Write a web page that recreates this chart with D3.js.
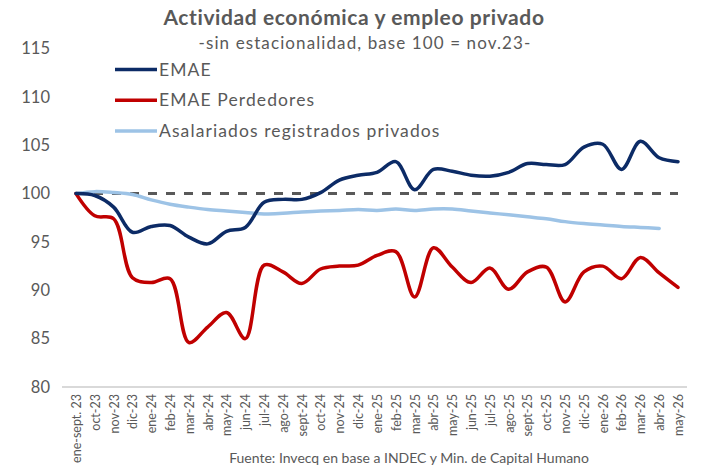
<!DOCTYPE html>
<html lang="es">
<head>
  <meta charset="utf-8" />
  <title>Actividad económica y empleo privado</title>
  <script src="https://cdn.jsdelivr.net/npm/d3@7/dist/d3.min.js"></script>
  <style>
    html,body{margin:0;padding:0;background:#fff;}
    svg{display:block;font-family:Lato,"Open Sans",sans-serif;}
  </style>
</head>
<body>
<svg id="chart" width="709" height="472"></svg>
<script>
// categorías (eje X)
const meses = ['ene-sept. 23','oct-23','nov-23','dic-23','ene-24','feb-24','mar-24','abr-24','may-24','jun-24',
  'jul-24','ago-24','sept-24','oct-24','nov-24','dic-24','ene-25','feb-25','mar-25','abr-25','may-25','jun-25',
  'jul-25','ago-25','sept-25','oct-25','nov-25','dic-25','ene-26','feb-26','mar-26','abr-26','may-26'];

// series (base 100)
const emae = [100,99.8,98.6,96.0,96.6,96.7,95.5,94.8,96.1,96.5,99.1,99.4,99.4,100.1,101.4,101.9,102.2,103.3,100.4,
  102.5,102.3,101.9,101.8,102.2,103.1,103.0,103.0,104.8,105.1,102.5,105.4,103.7,103.3];
const emaePerd = [100,97.7,97.4,91.3,90.8,91.2,84.6,86.2,87.7,85.0,92.6,91.9,90.7,92.2,92.5,92.6,93.6,94.0,89.3,
  94.4,92.4,90.8,92.3,90.1,91.9,92.4,88.8,91.9,92.5,91.2,93.4,91.8,90.3];
const asalariados = [100,100.2,100.1,99.9,99.35,98.9,98.6,98.35,98.2,98.05,97.9,97.97,98.1,98.2,98.25,98.35,98.25,
  98.4,98.25,98.4,98.4,98.2,98.0,97.8,97.6,97.4,97.1,96.9,96.75,96.6,96.5,96.4,null];

const yTicks = [80,85,90,95,100,105,110,115];
const seriesNames = ['EMAE','EMAE Perdedores','Asalariados registrados privados'];
const colores = ['#0c2b66','#c00000','#9dc3e6'];

const svg = d3.select('#chart');
const gris = '#595959';

const x = d3.scalePoint().domain(meses).range([76,678]);
const y = d3.scaleLinear().domain([80,115]).range([387,48.5]);

// título
svg.append('text').attr('x',354).attr('y',25).attr('text-anchor','middle')
  .attr('font-size',21).attr('font-weight','bold').attr('letter-spacing',0.6).attr('fill',gris)
  .text('Actividad económica y empleo privado');
svg.append('text').attr('x',365).attr('y',49).attr('text-anchor','middle')
  .attr('font-size',17).attr('letter-spacing',1.1).attr('fill',gris)
  .text('-sin estacionalidad, base 100 = nov.23-');

// eje Y (solo etiquetas)
svg.append('g').selectAll('text').data(yTicks).join('text')
  .attr('x',50).attr('y',d=>y(d)).attr('dy','0.35em').attr('text-anchor','end')
  .attr('font-size',16.5).attr('fill',gris).text(d=>d);

// eje X
const xAxis = svg.append('g').attr('transform','translate(0,387)')
  .call(d3.axisBottom(x).tickSize(0).tickPadding(0));
xAxis.select('.domain').remove();
svg.append('line').attr('x1',62).attr('x2',687).attr('y1',387).attr('y2',387)
  .attr('stroke','#d9d9d9').attr('stroke-width',2);
xAxis.selectAll('text')
  .attr('transform','rotate(-90)')
  .attr('x',-7).attr('y',0).attr('dy','0.35em')
  .attr('text-anchor','end').attr('font-size',12.5).attr('font-family','Lato,sans-serif').attr('fill',gris);

// línea base 100
svg.append('line').attr('x1',x(meses[0])).attr('x2',x(meses[meses.length-1]))
  .attr('y1',y(100)).attr('y2',y(100))
  .attr('stroke',gris).attr('stroke-width',3).attr('stroke-dasharray','9,9');

// series
const line = d3.line()
  .defined(d=>d.v!=null)
  .x(d=>x(d.m)).y(d=>y(d.v))
  .curve(d3.curveCatmullRom.alpha(0.5));

[asalariados,emaePerd,emae].forEach((s,k)=>{
  const idx = 2-k;
  svg.append('path')
    .datum(s.map((v,i)=>({m:meses[i],v})))
    .attr('d',line).attr('fill','none')
    .attr('stroke',colores[idx]).attr('stroke-width',3.5)
    .attr('stroke-linejoin','round').attr('stroke-linecap','round');
});

// leyenda
const ley = svg.append('g');
seriesNames.forEach((n,i)=>{
  const yy = 69.5 + i*30.7;
  ley.append('line').attr('x1',115).attr('x2',157).attr('y1',yy).attr('y2',yy)
    .attr('stroke',colores[i]).attr('stroke-width',3.5);
  ley.append('text').attr('x',159).attr('y',yy).attr('dy','0.35em')
    .attr('font-size',17.5).attr('letter-spacing',1.1).attr('fill',gris).text(n);
});

// fuente
svg.append('text').attr('x',409).attr('y',463).attr('text-anchor','middle')
  .attr('font-size',14).attr('fill',gris)
  .text('Fuente: Invecq en base a INDEC y Min. de Capital Humano');
</script>
</body>
</html>
